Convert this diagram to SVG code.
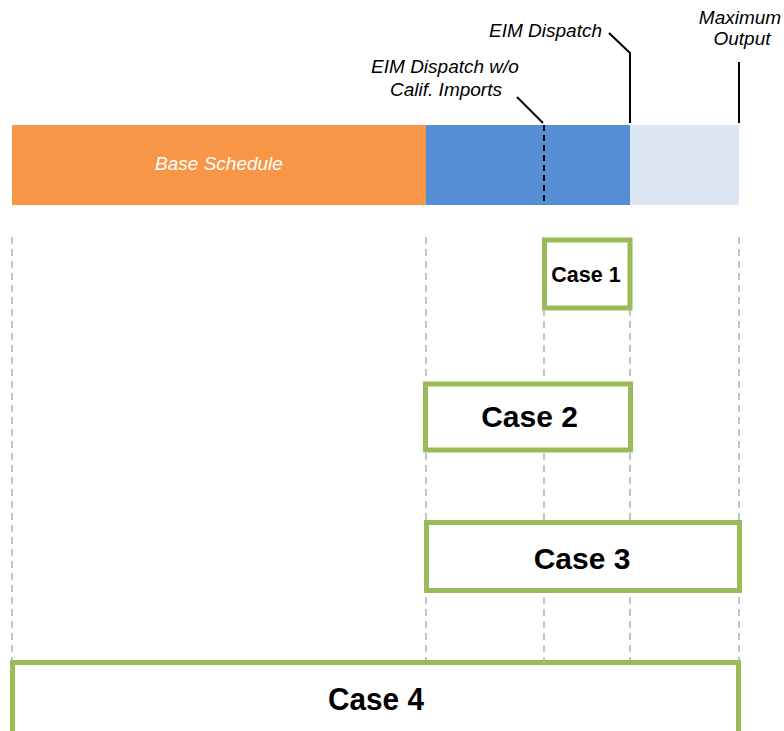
<svg xmlns="http://www.w3.org/2000/svg" width="784" height="731" viewBox="0 0 784 731">
<style>
.lbl{font-family:"Liberation Sans",Arial,sans-serif;font-style:italic;font-size:19px;fill:#000}
.case{fill:#fff;stroke:#9BBB59;stroke-width:5}
.ct{font-family:"Liberation Sans",Arial,sans-serif;font-weight:bold;fill:#000;text-anchor:middle}
.grid{stroke:#a6a6a6;stroke-width:1.3;stroke-dasharray:7,5;fill:none}
.lead{stroke:#000;stroke-width:2;fill:none}
</style>
<rect width="784" height="731" fill="#fff"/>
<g id="connectors">
<line class="grid" x1="12" y1="237" x2="12" y2="660"/>
<line class="grid" x1="426" y1="237" x2="426" y2="660"/>
<line class="grid" x1="544" y1="237" x2="544" y2="660"/>
<line class="grid" x1="630" y1="237" x2="630" y2="660"/>
<line class="grid" x1="739" y1="237" x2="739" y2="660"/>
<polyline class="lead" points="609,33 630,53 630,123"/>
<line class="lead" x1="739" y1="62" x2="739" y2="123"/>
<line class="lead" x1="517" y1="97" x2="543" y2="123"/>
</g>
<g id="bar">
<rect x="12" y="125" width="414" height="80" fill="#F79646"/>
<rect x="426" y="125" width="204" height="80" fill="#558ED5"/>
<rect x="630" y="125" width="109" height="80" fill="#DCE6F2"/>
<line x1="544" y1="125" x2="544" y2="205" stroke="#000" stroke-width="2" stroke-dasharray="6,4"/>
<text x="219" y="170" class="lbl" style="fill:#fff" text-anchor="middle">Base Schedule</text>
</g>
<g id="labels">
<text class="lbl" x="602" y="37" text-anchor="end">EIM Dispatch</text>
<text class="lbl" x="740" y="24" text-anchor="middle">Maximum</text>
<text class="lbl" x="742" y="45" text-anchor="middle">Output</text>
<text class="lbl" x="445" y="73" text-anchor="middle">EIM Dispatch w/o</text>
<text class="lbl" x="446" y="96" text-anchor="middle">Calif. Imports</text>
</g>
<g id="case1"><rect class="case" x="544.5" y="240" width="85.5" height="68"/><text class="ct" x="586" y="282" font-size="21.5">Case 1</text></g>
<g id="case2"><rect class="case" x="425.5" y="384" width="205" height="66"/><text class="ct" x="529.5" y="427" font-size="30">Case 2</text></g>
<g id="case3"><rect class="case" x="426.5" y="522.5" width="313" height="68"/><text class="ct" x="582" y="569" font-size="30">Case 3</text></g>
<g id="case4"><rect class="case" x="12.5" y="662.5" width="726" height="80"/><text class="ct" x="376" y="710" font-size="31" textLength="96" lengthAdjust="spacingAndGlyphs">Case 4</text></g>
</svg>
